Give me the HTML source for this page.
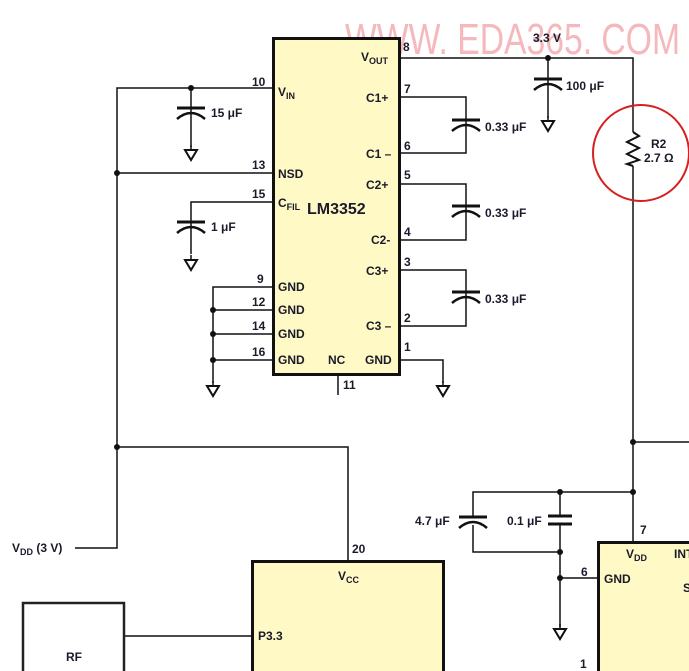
<!DOCTYPE html>
<html><head><meta charset="utf-8"><style>
html,body{margin:0;padding:0;background:#fff;width:689px;height:671px;overflow:hidden}
svg text{font-family:"Liberation Sans",sans-serif;font-weight:bold;fill:#1a1a2a}
</style></head><body>
<svg width="689" height="671" viewBox="0 0 689 671" xmlns="http://www.w3.org/2000/svg">
<defs>
<g id="gnd"><line x1="0" y1="0" x2="0" y2="5" stroke="#111" stroke-width="1.5"/><polygon points="-6,5 6,5 0,15" fill="#fff" stroke="#111" stroke-width="2"/></g>
<g id="cap"><line x1="-14" y1="0" x2="14" y2="0" stroke="#111" stroke-width="3"/><path d="M-14,11 Q0,-1 14,11" fill="none" stroke="#111" stroke-width="2.5"/></g>
</defs>
<!-- watermark -->
<text x="345" y="54" font-size="44" textLength="335" lengthAdjust="spacingAndGlyphs" style="font-family:'Liberation Sans',sans-serif;font-weight:normal;fill:#f5b8bc">WWW. EDA365. COM</text>
<g stroke="#111" stroke-width="1.5" fill="none">
<polyline points="75,548 117,548 117,88 272,88"/>
<line x1="117" y1="173" x2="272" y2="173"/>
<polyline points="117,447 348,447 348,560"/>
<line x1="191" y1="88" x2="191" y2="147"/>
<polyline points="272,202 191,202 191,254"/>
<polyline points="272,287 213,287 213,383"/>
<line x1="213" y1="310" x2="272" y2="310"/>
<line x1="213" y1="334" x2="272" y2="334"/>
<line x1="213" y1="360" x2="272" y2="360"/>
<line x1="338" y1="375" x2="338" y2="395"/>
<polyline points="400,360 443,360 443,383"/>
<polyline points="400,97 466,97 466,153 400,153"/>
<polyline points="400,184 466,184 466,240 400,240"/>
<polyline points="400,270 466,270 466,326 400,326"/>
<polyline points="400,58 633,58 633,132"/>
<line x1="633" y1="166" x2="633" y2="541"/>
<line x1="633" y1="442" x2="689" y2="442"/>
<line x1="548" y1="58" x2="548" y2="118"/>
<polyline points="633,492 473,492 473,517"/>
<polyline points="473,525 473,552 560,552"/>
<line x1="560" y1="492" x2="560" y2="516"/>
<line x1="560" y1="524" x2="560" y2="627"/>
<line x1="560" y1="578" x2="597" y2="578"/>
<line x1="124" y1="636" x2="251" y2="636"/>
<polyline points="633,132 639,136 627,142 639,148 627,154 639,160 627,164 633,166" stroke-width="2"/>
</g>
<use href="#cap" x="191" y="108"/>
<use href="#cap" x="191" y="222"/>
<use href="#cap" x="466" y="120"/>
<use href="#cap" x="466" y="206"/>
<use href="#cap" x="466" y="292"/>
<use href="#cap" x="548" y="79"/>
<use href="#cap" x="473" y="517"/>
<line x1="548" y1="516" x2="572" y2="516" stroke="#111" stroke-width="3"/>
<line x1="548" y1="524" x2="572" y2="524" stroke="#111" stroke-width="3"/>
<use href="#gnd" x="191" y="145"/>
<use href="#gnd" x="191" y="255"/>
<use href="#gnd" x="213" y="381"/>
<use href="#gnd" x="443" y="381"/>
<use href="#gnd" x="548" y="116"/>
<use href="#gnd" x="560" y="624"/>
<g fill="#111">
<circle cx="117" cy="173" r="3"/><circle cx="117" cy="447" r="3"/><circle cx="191" cy="88" r="3"/>
<circle cx="213" cy="310" r="3"/><circle cx="213" cy="334" r="3"/><circle cx="213" cy="360" r="3"/>
<circle cx="548" cy="58" r="3"/><circle cx="633" cy="442" r="3"/><circle cx="633" cy="492" r="3"/>
<circle cx="560" cy="492" r="3"/><circle cx="560" cy="552" r="3"/><circle cx="560" cy="578" r="3"/>
</g>
<rect x="273.5" y="38.5" width="126" height="336" fill="#fff9c6" stroke="#111" stroke-width="3"/>
<rect x="252.5" y="561.5" width="191" height="115" fill="#fff9c6" stroke="#111" stroke-width="3"/>
<rect x="598.5" y="542.5" width="100" height="140" fill="#fff9c6" stroke="#111" stroke-width="3"/>
<polyline points="23,671 23,603 124,603 124,671" fill="none" stroke="#222" stroke-width="2.5"/>
<ellipse cx="641" cy="153" rx="48" ry="48" fill="none" stroke="#d42020" stroke-width="2"/>
<g font-size="12">
<text x="252" y="86">10</text><text x="252" y="169">13</text><text x="252" y="198">15</text>
<text x="257" y="283">9</text><text x="252" y="306">12</text><text x="252" y="330">14</text><text x="252" y="356">16</text>
<text x="403" y="51">8</text><text x="404" y="93">7</text><text x="404" y="150">6</text><text x="404" y="179">5</text>
<text x="404" y="236">4</text><text x="404" y="266">3</text><text x="404" y="322">2</text><text x="404" y="351">1</text>
<text x="343" y="389">11</text>
<text x="278" y="96">V<tspan font-size="9" dy="3">IN</tspan></text>
<text x="278" y="178">NSD</text>
<text x="278" y="207">C<tspan font-size="9" dy="3">FIL</tspan></text>
<text x="307" y="214" font-size="16">LM3352</text>
<text x="278" y="291">GND</text><text x="278" y="314">GND</text><text x="278" y="338">GND</text><text x="278" y="364">GND</text>
<text x="328" y="364">NC</text><text x="365" y="364">GND</text>
<text x="361" y="61">V<tspan font-size="9" dy="3">OUT</tspan></text>
<text x="366" y="102">C1+</text><text x="366" y="158">C1 –</text><text x="366" y="189">C2+</text>
<text x="371" y="244">C2-</text><text x="366" y="275">C3+</text><text x="366" y="330">C3 –</text>
<text x="211" y="117">15 μF</text><text x="211" y="231">1 μF</text>
<text x="485" y="131">0.33 μF</text><text x="485" y="217">0.33 μF</text><text x="485" y="303">0.33 μF</text>
<text x="533" y="42">3.3 V</text><text x="566" y="90">100 μF</text>
<text x="651" y="148">R2</text><text x="644" y="162">2.7 Ω</text>
<text x="12" y="552">V<tspan font-size="9" dy="3">DD</tspan><tspan dy="-3"> (3 V)</tspan></text>
<text x="352" y="553">20</text>
<text x="338" y="580">V<tspan font-size="9" dy="3">CC</tspan></text>
<text x="258" y="640">P3.3</text>
<text x="66" y="661">RF</text>
<text x="415" y="525">4.7 μF</text><text x="507" y="525">0.1 μF</text>
<text x="640" y="534">7</text><text x="581" y="576">6</text><text x="580" y="668">1</text>
<text x="626" y="558">V<tspan font-size="9" dy="3">DD</tspan></text>
<text x="674" y="558">INT</text>
<text x="604" y="583">GND</text>
<text x="683" y="592">S</text>
</g>
</svg>
</body></html>
